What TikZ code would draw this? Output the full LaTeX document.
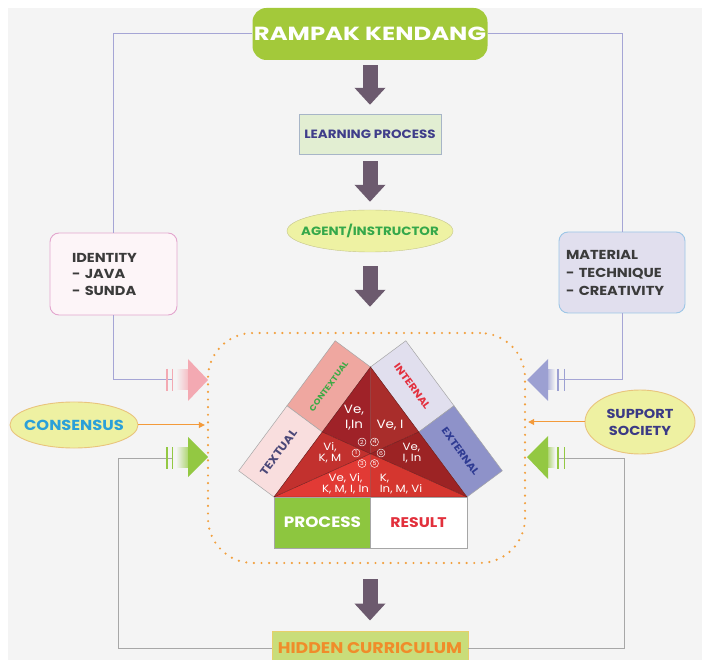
\documentclass[tikz,border=0pt]{standalone}
\usepackage{fontspec}
\setmainfont{Poppins}[FakeStretch=1.12]
\newfontfamily\rkfont{Poppins}[FakeStretch=1.28]
\usetikzlibrary{arrows.meta,shapes.geometric}
\newcommand\fsz[2]{\fontsize{#1}{#2}\selectfont}
\definecolor{bgc}{HTML}{F4F4F4}
\definecolor{rkgreen}{HTML}{A3C93A}
\definecolor{lpfill}{HTML}{E2EED2}
\definecolor{lpborder}{HTML}{A7B5C7}
\definecolor{lptext}{HTML}{3F3D8A}
\definecolor{agfill}{HTML}{EEF2A3}
\definecolor{agborder}{HTML}{C5C58C}
\definecolor{agtext}{HTML}{35A84A}
\definecolor{idfill}{HTML}{FDF5F8}
\definecolor{idborder}{HTML}{E3A6CE}
\definecolor{mtfill}{HTML}{E1DFEE}
\definecolor{mtborder}{HTML}{9CC6E6}
\definecolor{txtdark}{HTML}{3B3B3B}
\definecolor{csfill}{HTML}{EEF1A2}
\definecolor{csborder}{HTML}{E9C47D}
\definecolor{cstext}{HTML}{2BA0D8}
\definecolor{sstext}{HTML}{3B3A85}
\definecolor{orangec}{HTML}{F39A3A}
\definecolor{dotc}{HTML}{F2A03E}
\definecolor{lavline}{HTML}{A5A5D5}
\definecolor{grayline}{HTML}{A7A7A7}
\definecolor{pinkc}{HTML}{F3A9B2}
\definecolor{bluec}{HTML}{9CA0D2}
\definecolor{greenc}{HTML}{93C842}
\definecolor{arrowc}{HTML}{6C5A6E}
\definecolor{hcfill}{HTML}{C9DD7A}
\definecolor{hcborder}{HTML}{E7CF6A}
\definecolor{hctext}{HTML}{F08C2A}
\definecolor{procgreen}{HTML}{8DC63F}
\definecolor{restext}{HTML}{E2303C}
\definecolor{ctxfill}{HTML}{EFA7A0}
\definecolor{ctxtext}{HTML}{3DAA45}
\definecolor{txtfill}{HTML}{F9DEDE}
\definecolor{txttext}{HTML}{4B4878}
\definecolor{intfill}{HTML}{E1DFEE}
\definecolor{inttext}{HTML}{E3313F}
\definecolor{extfill}{HTML}{8E92C9}
\definecolor{exttext}{HTML}{2F3B93}
\definecolor{tA}{HTML}{9F2228}
\definecolor{tB}{HTML}{A92D2B}
\definecolor{tC}{HTML}{C2312E}
\definecolor{tD}{HTML}{9C2324}
\definecolor{tE}{HTML}{E23A35}
\definecolor{tF}{HTML}{D5362F}
\definecolor{trline}{HTML}{6B1A1A}
\begin{document}
\begin{tikzpicture}[x=1pt,y=-1pt,
  bigarr/.style={line width=15pt, draw=arrowc, -{Triangle[width=30pt,length=17pt]}},
  linkL/.style={draw=lavline, line width=1pt},
  linkG/.style={draw=grayline, line width=1pt},
  oarr/.style={draw=orangec, line width=1pt, -{Triangle[width=6pt,length=6pt]}},
  tickmark/.style={line width=1.6pt},
  sidebox/.style={draw=gray!70, line width=0.5pt},
  triline/.style={draw=trline, line width=0.4pt},
  num/.style={circle, draw=white, line width=0.45pt, inner sep=0pt, minimum size=8pt, text=white, font=\fsz{5.5}{6}},
  lab/.style={text=white, inner sep=0pt, font=\fsz{10.5}{11.5}},
  sidelab/.style={inner sep=0pt},
]
\useasboundingbox (0,0) rectangle (702,660);
\fill[white] (0,0) rectangle (702,660);
\fill[bgc] (8,8) rectangle (702,660);

% ---------- main nodes ----------
\node[fill=rkgreen, rounded corners=14pt, minimum width=235pt, minimum height=52pt, inner sep=0pt,
      text=white, font=\rkfont\bfseries\fsz{19}{20}] (rk) at (370,34) {RAMPAK KENDANG};
\node[draw=lpborder, fill=lpfill, minimum width=142pt, minimum height=40pt, inner sep=0pt,
      text=lptext, font=\bfseries\fsz{12}{13}] (lp) at (370,134) {LEARNING PROCESS};
\node[ellipse, draw=agborder, fill=agfill, minimum width=166pt, minimum height=42pt, inner xsep=-11pt, inner ysep=0pt,
      text=agtext, font=\bfseries\fsz{12}{13}] (ag) at (370,231) {AGENT/INSTRUCTOR};
\node[draw=idborder, fill=idfill, rounded corners=9pt, line width=0.9pt, minimum height=82pt,
      text width=83pt, inner xsep=22pt, align=left, text=txtdark, font=\bfseries\fsz{13}{16.5}]
      (id) at (113.5,274) {IDENTITY\\- JAVA\\- SUNDA};
\node[draw=mtborder, fill=mtfill, rounded corners=9pt, line width=0.9pt, minimum height=81pt,
      text width=112pt, inner xsep=7pt, align=left, text=txtdark, font=\bfseries\fsz{13}{18}]
      (mt) at (622,272.5) {MATERIAL\\- TECHNIQUE\\- CREATIVITY};
\node[ellipse, draw=csborder, fill=csfill, line width=0.9pt, minimum width=128pt, minimum height=46pt, inner xsep=-6pt, inner ysep=0pt,
      text=cstext, font=\bfseries\fsz{14.5}{16}] (cs) at (74,425) {CONSENSUS};
\node[ellipse, draw=csborder, fill=csfill, line width=0.9pt, minimum width=110pt, minimum height=64pt, inner sep=0pt,
      align=center, text=sstext, font=\bfseries\fsz{13}{17}] (ss) at (640,422) {SUPPORT\\SOCIETY};
\node[draw=hcborder, fill=hcfill, line width=0.9pt, minimum width=196pt, minimum height=34pt, inner sep=0pt,
      text=hctext, font=\bfseries\fsz{15.5}{16}] (hc) at (370,648) {HIDDEN CURRICULUM};
\node[draw=dotc, rounded corners=45pt, minimum width=317pt, minimum height=230pt, inner sep=0pt,
      dash pattern=on 0pt off 7.6pt, line cap=round, line width=2.4pt] (fr) at (366.5,448) {};

% ---------- big arrows ----------
\draw[bigarr, shorten <=5pt, shorten >=9pt] (rk.south) -- (lp.north);
\draw[bigarr, shorten <=7pt, shorten >=8pt] (lp.south) -- (ag.north);
\draw[bigarr, shorten <=14pt, shorten >=25pt] (ag.south) -- (ag.south |- fr.north);
\draw[bigarr, shorten <=15pt, shorten >=10pt] (hc.north |- fr.south) -- (hc.north);

% ---------- side connectors ----------
\coordinate (tl) at (172,380);
\coordinate (tr) at (558,380);
\coordinate (gl) at (172,458);
\coordinate (gr) at (558,458);
\draw[linkL] (rk.west) -| (id.north);
\draw[linkL] (id.south) |- (tl);
\draw[linkL] (rk.east) -| (mt.north);
\draw[linkL] (mt.south) |- (tr);
\draw[linkG] (hc.west) -| (118,458) -- (gl);
\draw[linkG] (hc.east) -| (624,458) -- (gr);

% left pink
\draw[tickmark, pinkc] (167,369) -- (167,391);
\draw[tickmark, pinkc] (172.5,369) -- (172.5,391);
\shade[left color=bgc, right color=pinkc!80] (176,370) rectangle (189,390);
\fill[pinkc] (188,359) -- (208,380) -- (188,401) -- cycle;
% left green
\draw[tickmark, greenc] (167,447) -- (167,469);
\draw[tickmark, greenc] (172.5,447) -- (172.5,469);
\shade[left color=bgc, right color=greenc!80] (176,447) rectangle (189,467);
\fill[greenc] (188,437) -- (208,457) -- (188,477) -- cycle;
% right blue
\draw[tickmark, bluec] (558,369) -- (558,391);
\draw[tickmark, bluec] (564.5,369) -- (564.5,391);
\shade[left color=bluec!80, right color=bgc] (547,370) rectangle (555,390);
\fill[bluec] (548,359) -- (527,380) -- (548,401) -- cycle;
% right green
\draw[tickmark, greenc] (558,447) -- (558,469);
\draw[tickmark, greenc] (564.5,447) -- (564.5,469);
\shade[left color=greenc!80, right color=bgc] (547,447) rectangle (555,467);
\fill[greenc] (548,436) -- (527,457) -- (548,479) -- cycle;

% orange arrows
\draw[oarr, shorten >=2pt] (cs.east) -- (fr.west |- cs.east);
\draw[oarr, shorten >=2pt] (ss.west) -- (fr.east |- ss.west);

% ---------- triangle ----------
\coordinate (A) at (274,497);
\coordinate (C) at (467,497);
\coordinate (B) at (370.5,367);
\coordinate (L) at (322.25,432);
\coordinate (R) at (418.75,432);
\coordinate (M) at (370.5,497);
\coordinate (G) at (370.5,453.7);
\coordinate (Ap) at (238.7,470.8);
\coordinate (Lp) at (287,405.8);
\coordinate (Bp) at (335.2,340.8);
\coordinate (Bq) at (405.8,340.8);
\coordinate (Rq) at (454,405.8);
\coordinate (Cq) at (502.3,470.8);

\draw[sidebox, fill=ctxfill] (L) -- (B) -- (Bp) -- (Lp) -- cycle;
\draw[sidebox, fill=txtfill] (A) -- (L) -- (Lp) -- (Ap) -- cycle;
\draw[sidebox, fill=intfill] (B) -- (R) -- (Rq) -- (Bq) -- cycle;
\draw[sidebox, fill=extfill] (R) -- (C) -- (Cq) -- (Rq) -- cycle;

\fill[tA] (B) -- (L) -- (G) -- cycle;
\fill[tB] (B) -- (R) -- (G) -- cycle;
\fill[tC] (L) -- (A) -- (G) -- cycle;
\fill[tD] (R) -- (C) -- (G) -- cycle;
\fill[tE] (A) -- (M) -- (G) -- cycle;
\fill[tF] (M) -- (C) -- (G) -- cycle;
\draw[triline] (A) -- (B) -- (C) -- cycle;
\draw[triline] (G) -- (A) (G) -- (B) (G) -- (C) (G) -- (L) (G) -- (R) (G) -- (M);

\node[sidelab, rotate=53.6, text=ctxtext, font=\bfseries\fsz{8}{9}] (ctx) at (328.7,386.4) {CONTEXTUAL};
\node[sidelab, rotate=53.6, text=txttext, font=\bfseries\fsz{11}{12}] (txt) at (278.5,452.4) {TEXTUAL};
\node[sidelab, rotate=-53.6, text=inttext, font=\bfseries\fsz{10}{11}] (int) at (412.3,386.4) {INTERNAL};
\node[sidelab, rotate=-53.6, text=exttext, font=\bfseries\fsz{10}{11}] (ext) at (460.5,451.4) {EXTERNAL};

\node[lab, align=center, font=\fsz{12}{15}] (r1) at (354,418) {Ve,\\I,In};
\node[lab, font=\fsz{12}{13}] (r2) at (390,425) {Ve, I};
\node[lab, align=center] (r3) at (330,453) {Vi,\\K, M};
\node[lab, align=left] (r4) at (412,453) {Ve,\\I, In};
\node[lab, align=center] (r5) at (345.5,484) {Ve, Vi,\\K, M, I, In};
\node[lab, align=left] (r6) at (401,484) {K,\\In, M, Vi};

\node[num] (n2) at (362,442) {2};
\node[num] (n4) at (374.5,442) {4};
\node[num] (n1) at (356,453) {1};
\node[num] (n6) at (381,453) {6};
\node[num] (n3) at (362,463.5) {3};
\node[num] (n5) at (374.5,463.5) {5};

\node[draw=gray!70, fill=procgreen, minimum width=96.5pt, minimum height=51pt, inner sep=0pt, anchor=north west,
      text=white, font=\bfseries\fsz{15}{16}] (pr) at (A) {PROCESS};
\node[draw=gray!70, fill=white, minimum width=96.5pt, minimum height=51pt, inner sep=0pt, anchor=north east,
      text=restext, font=\bfseries\fsz{14}{15}] (rs) at (C) {RESULT};
\end{tikzpicture}
\end{document}
